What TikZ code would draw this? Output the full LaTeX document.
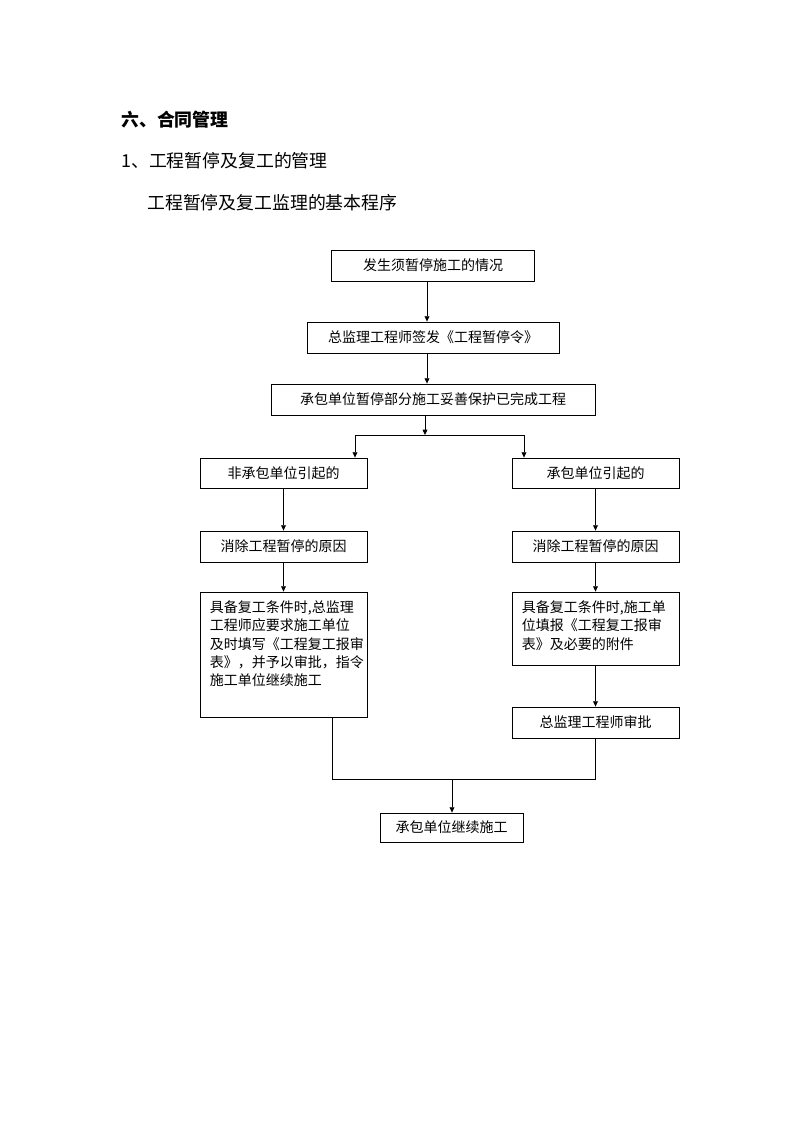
\documentclass[tikz,border=0pt]{standalone}
\usepackage{fontspec}
\setmainfont{Noto Sans CJK SC}
\usepackage{tikz}
\usetikzlibrary{arrows.meta}
\usetikzlibrary{positioning}
\usetikzlibrary{calc}
\tikzstyle{box} = [draw, line width=0.6pt, rectangle, inner sep=0pt, font=\fontsize{10.5pt}{13.75pt}\selectfont]
\tikzstyle{boxtext} = [inner sep=0pt, align=left, anchor=north west, font=\fontsize{10.5pt}{13.75pt}\selectfont]
\tikzstyle{heading} = [inner sep=0pt, anchor=west, font=\fontsize{13.4pt}{16pt}\selectfont]
\tikzstyle{arrow} = [line width=0.6pt, -{Triangle[width=3.6pt,length=4pt]}]
\tikzstyle{joinline} = [line width=0.6pt]

\begin{document}
\begin{tikzpicture}[x=0.75pt, y=-0.75pt]
    \useasboundingbox (0,0) rectangle (794,1123);

    % headings
    \node[heading, font=\fontsize{13.4pt}{16pt}\selectfont\bfseries] (h1) at (121,120) {六、合同管理};
    \node[heading] (h2) at (121,161) {1、工程暂停及复工的管理};
    \node[heading] (h3) at (147,203) {工程暂停及复工监理的基本程序};

    % main column
    \node[box, minimum width=152.25pt, minimum height=23.25pt] (b1) at (433,265.5) {发生须暂停施工的情况};
    \node[box, minimum width=189pt, minimum height=23.25pt] (b2) at (433,337.5) {总监理工程师签发《工程暂停令》};
    \node[box, minimum width=243pt, minimum height=23.25pt] (b3) at (433,399.5) {承包单位暂停部分施工妥善保护已完成工程};

    % left branch
    \node[box, minimum width=125.25pt, minimum height=22.5pt] (l1) at (283.5,473) {非承包单位引起的};
    \node[box, minimum width=125.25pt, minimum height=23.25pt] (l2) at (283.5,546.5) {消除工程暂停的原因};
    \node[box, minimum width=125.25pt, minimum height=93.75pt] (l3) at (283.5,654.5) {};
    \node[boxtext] (l3t) at ([xshift=7.5pt,yshift=-6.5pt]l3.north west)
        {具备复工条件时,总监理\\工程师应要求施工单位\\及时填写《工程复工报审\\表》，并予以审批，指令\\施工单位继续施工};

    % right branch
    \node[box, minimum width=125.25pt, minimum height=22.5pt] (r1) at (595.5,473) {承包单位引起的};
    \node[box, minimum width=125.25pt, minimum height=23.25pt] (r2) at (595.5,546.5) {消除工程暂停的原因};
    \node[box, minimum width=125.25pt, minimum height=54.75pt] (r3) at (595.5,628.5) {};
    \node[boxtext] (r3t) at ([xshift=7.5pt,yshift=-6.5pt]r3.north west)
        {具备复工条件时,施工单\\位填报《工程复工报审\\表》及必要的附件};
    \node[box, minimum width=125.25pt, minimum height=23.25pt] (r4) at (595.5,722.5) {总监理工程师审批};

    \node[box, minimum width=107.25pt, minimum height=21.75pt] (fin) at (451.5,827.5) {承包单位继续施工};

    % connectors
    \coordinate (split) at (425,435);
    \coordinate (splitl) at (355,435);
    \coordinate (splitr) at (524,435);
    \coordinate (ml) at (332,779);
    \coordinate (merge) at (452,779);

    \draw[arrow] ([xshift=-4.5pt]b1.south) -- ([xshift=-4.5pt]b2.north);
    \draw[arrow] ([xshift=-4.5pt]b2.south) -- ([xshift=-4.5pt]b3.north);
    \draw[arrow] (b3.south -| split) -- (split);
    \draw[joinline] (splitl) -- (splitr);
    \draw[arrow] (splitl) -- (splitl |- l1.north);
    \draw[arrow] (splitr) -- (splitr |- r1.north);

    \draw[arrow] (l1.south) -- (l2.north);
    \draw[arrow] (l2.south) -- (l3.north);
    \draw[arrow] (r1.south) -- (r2.north);
    \draw[arrow] (r2.south) -- (r3.north);
    \draw[arrow] (r3.south) -- (r4.north);

    \draw[joinline] (l3.south -| ml) -- (ml) -- (r4.south |- ml) -- (r4.south);
    \draw[arrow] (merge) -- (merge |- fin.north);
\end{tikzpicture}
\end{document}
